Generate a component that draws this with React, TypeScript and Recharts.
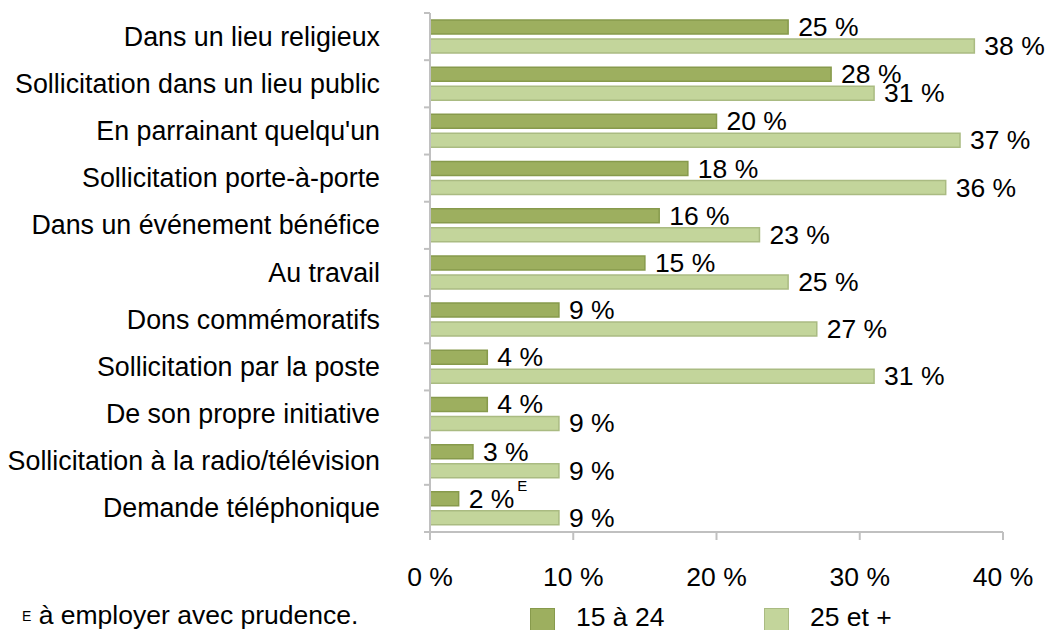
import React from 'react';
import { BarChart, Bar, XAxis, YAxis, LabelList } from 'recharts';

const categories = [
  'Dans un lieu religieux',
  'Sollicitation dans un lieu public',
  "En parrainant quelqu'un",
  'Sollicitation porte-à-porte',
  'Dans un événement bénéfice',
  'Au travail',
  'Dons commémoratifs',
  'Sollicitation par la poste',
  'De son propre initiative',
  'Sollicitation à la radio/télévision',
  'Demande téléphonique',
];
const youth = [25, 28, 20, 18, 16, 15, 9, 4, 4, 3, 2];
const adults = [38, 31, 37, 36, 23, 25, 27, 31, 9, 9, 9];
// "E" flag = use with caution
const youthFlags = ['', '', '', '', '', '', '', '', '', '', 'E'];
const xTicks = [0, 10, 20, 30, 40];

const series = [
  { key: 'youth', name: '15 à 24', fill: '#9daf5f', stroke: '#879a4c' },
  { key: 'adults', name: '25 et +', fill: '#c3d59b', stroke: '#aabb82' },
];

const data = categories.map((name, i) => ({
  name,
  youth: youth[i],
  adults: adults[i],
  flag: youthFlags[i],
}));

const FONT = '"Liberation Sans", Arial, sans-serif';
const FS = 26.5;
const AXIS = '#c0c0c0';
const W = 1046;
const H = 630;
const X_AXIS_H = 30;
const M = { top: 13, right: 43, bottom: 68, left: 0 };
const band = (H - M.top - M.bottom - X_AXIS_H) / categories.length;

const CategoryTick = (props: any) => {
  const { x, y, payload, index } = props;
  const ax = x + 50;
  return (
    <g>
      <line x1={ax - 6} x2={ax} y1={y - band / 2} y2={y - band / 2} stroke={AXIS} strokeWidth={2} />
      {index === categories.length - 1 && (
        <line x1={ax - 6} x2={ax} y1={y + band / 2} y2={y + band / 2} stroke={AXIS} strokeWidth={2} />
      )}
      <text x={x} y={y} textAnchor="end" dominantBaseline="central" fontSize={26.8} fill="#000" fontFamily={FONT}>
        {payload.value}
      </text>
    </g>
  );
};

const makeLabel = (withFlag: boolean) => (props: any) => {
  const { x, y, width, height, value, index } = props;
  const flag = withFlag ? data[index].flag : '';
  return (
    <text
      x={x + width + 10}
      y={y + height / 2}
      dominantBaseline="central"
      fontSize={FS}
      fill="#000"
      fontFamily={FONT}
    >
      {`${value} %`}
      {flag && (
        <tspan dx={3} dy={-14} fontSize={15}>
          {flag}
        </tspan>
      )}
    </text>
  );
};

export default function App() {
  return (
    <div style={{ position: 'absolute', left: 0, top: 0, width: W, height: H, background: '#fff', fontFamily: FONT, overflow: 'hidden' }}>
      <BarChart
        width={W}
        height={H}
        data={data}
        layout="vertical"
        margin={M}
        barSize={14}
        barGap={5}
      >
        <XAxis
          type="number"
          domain={[0, 40]}
          ticks={xTicks}
          height={X_AXIS_H}
          tickFormatter={(v: number) => `${v} %`}
          stroke={AXIS}
          strokeWidth={2}
          tickSize={8}
          tickMargin={27}
          tick={{ fill: '#000', fontSize: FS, fontFamily: FONT }}
        />
        <YAxis
          type="category"
          dataKey="name"
          width={430}
          stroke={AXIS}
          strokeWidth={2}
          tickLine={false}
          tickSize={0}
          tickMargin={50}
          interval={0}
          tick={<CategoryTick />}
        />
        {series.map((s) => (
          <Bar
            key={s.key}
            dataKey={s.key}
            name={s.name}
            fill={s.fill}
            stroke={s.stroke}
            strokeWidth={1.5}
            isAnimationActive={false}
          >
            <LabelList dataKey={s.key} content={makeLabel(s.key === 'youth')} />
          </Bar>
        ))}
      </BarChart>

      <div style={{ position: 'absolute', left: 22, top: 600, fontSize: FS, lineHeight: '30px', color: '#000', whiteSpace: 'nowrap' }}>
        <span style={{ fontSize: 14, lineHeight: '14px', verticalAlign: 'top', position: 'relative', top: 9 }}>E</span> à employer avec prudence.
      </div>

      {series.map((s, i) => (
        <div
          key={s.key}
          style={{
            position: 'absolute',
            left: i === 0 ? 530 : 764,
            top: 602,
            height: 30,
            display: 'flex',
            alignItems: 'center',
            fontSize: FS,
            color: '#000',
            whiteSpace: 'nowrap',
          }}
        >
          <span
            style={{
              display: 'inline-block',
              width: 23,
              height: 22,
              background: s.fill,
              border: `1px solid ${s.stroke}`,
              marginRight: 21,
              alignSelf: 'flex-start',
              marginTop: 6,
            }}
          />
          {s.name}
        </div>
      ))}
    </div>
  );
}
